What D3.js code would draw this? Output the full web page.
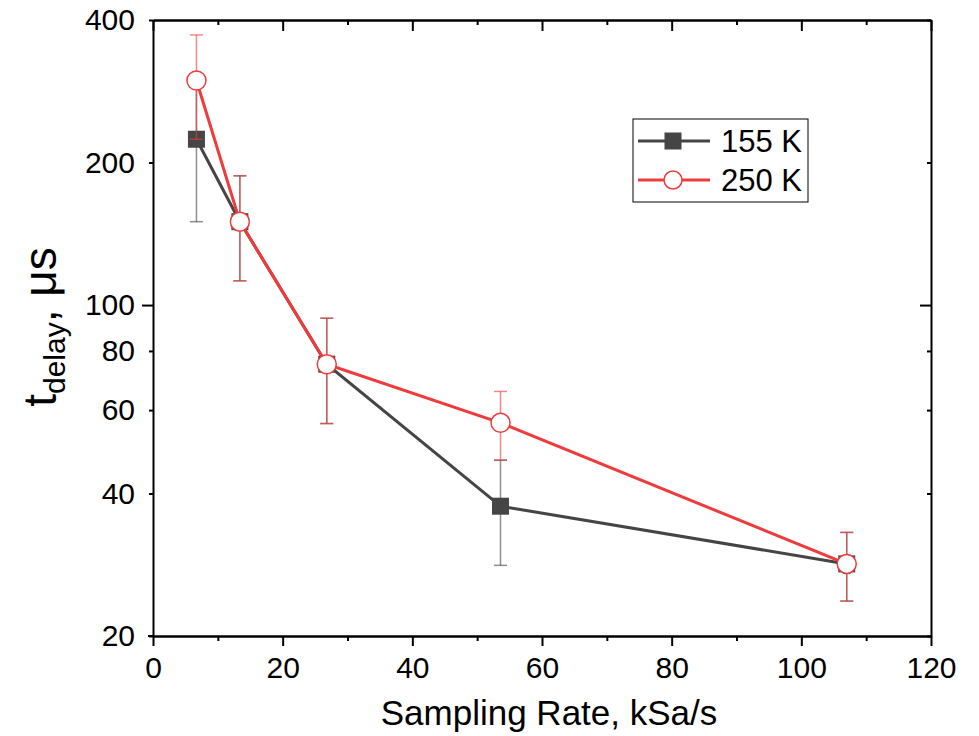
<!DOCTYPE html>
<html lang="en">
<head>
<meta charset="UTF-8">
<title>t_delay vs Sampling Rate</title>
<script src="https://d3js.org/d3.v7.min.js"></script>
<style>
  body { margin: 0; background: #fff; }
  text { font-family: "Liberation Sans", Arial, sans-serif; fill: #000; }
</style>
</head>
<body>
<div id="chart"></div>
<script>
// sampling rate, kSa/s
const rates = [6.7, 13.4, 26.8, 53.6, 107];
// 155 K series
const delay155 = [224, 150, 75, 37.6, 28.4];
const err155 = [74, 37.5, 18.8, 9.4, 4.7];
// 250 K series
const delay250 = [298, 150, 75, 56.4, 28.4];
const err250 = [74, 37.5, 18.8, 9.3, 4.7];

const xTicks = [0, 20, 40, 60, 80, 100, 120];
const xMinor = [10, 30, 50, 70, 90, 110];
const yTicks = [20, 40, 60, 80, 100, 200, 400];
const yMajor = [100];

const W = 979, H = 736;
const margin = {top: 20, right: 48, bottom: 100, left: 153};
const width = W - margin.left - margin.right,
      height = H - margin.top - margin.bottom;

const svg = d3.select("#chart").append("svg")
    .attr("width", W).attr("height", H);
const g = svg.append("g")
    .attr("transform", `translate(${margin.left},${margin.top})`);

const x = d3.scaleLinear().domain([0, 120]).range([0, width]);
const y = d3.scaleLog().domain([20, 400]).range([height, 0]);

const series = [
  {name: "155 K", vals: delay155, err: err155, color: "#454545", shape: "square"},
  {name: "250 K", vals: delay250, err: err250, color: "#ef3b3b", shape: "circle"}
];

// data
series.forEach(s => {
  const pts = rates.map((r, i) => ({x: r, y: s.vals[i], e: s.err[i]}));
  const sg = g.append("g");

  sg.append("path")
    .datum(pts)
    .attr("fill", "none")
    .attr("stroke", s.color)
    .attr("stroke-width", 3)
    .attr("d", d3.line().x(d => x(d.x)).y(d => y(d.y)));

  const eb = sg.append("g")
    .attr("stroke", s.color)
    .attr("stroke-opacity", 0.6)
    .attr("stroke-width", 1.5);
  pts.forEach(d => {
    const xx = x(d.x), y1 = y(d.y + d.e), y2 = y(d.y - d.e);
    eb.append("line").attr("x1", xx).attr("x2", xx).attr("y1", y1).attr("y2", y2);
    eb.append("line").attr("x1", xx - 6.5).attr("x2", xx + 6.5).attr("y1", y1).attr("y2", y1);
    eb.append("line").attr("x1", xx - 6.5).attr("x2", xx + 6.5).attr("y1", y2).attr("y2", y2);
  });

  if (s.shape === "square") {
    sg.selectAll("rect.m").data(pts).join("rect")
      .attr("x", d => x(d.x) - 8.5).attr("y", d => y(d.y) - 8.5)
      .attr("width", 17).attr("height", 17)
      .attr("fill", s.color);
  } else {
    sg.selectAll("circle.m").data(pts).join("circle")
      .attr("cx", d => x(d.x)).attr("cy", d => y(d.y))
      .attr("r", 9.5)
      .attr("fill", "#fff")
      .attr("stroke", s.color)
      .attr("stroke-width", 1.5);
  }
});

// axes
function styleAxis(sel) {
  sel.select(".domain").attr("stroke", "#000").attr("stroke-width", 2);
  sel.selectAll(".tick line").attr("stroke", "#000").attr("stroke-width", 2);
  sel.selectAll(".tick text").style("font-size", "30px");
}

const fmt = d3.format("d");

const xAxisB = g.append("g")
  .attr("transform", `translate(0,${height})`)
  .call(d3.axisBottom(x).tickValues(xTicks).tickFormat(fmt).tickSizeInner(10).tickSizeOuter(0).tickPadding(6));
styleAxis(xAxisB);
xAxisB.selectAll(".tick text").attr("dy", "0.85em");
const xAxisBMinor = g.append("g")
  .attr("transform", `translate(0,${height})`)
  .call(d3.axisBottom(x).tickValues(xMinor).tickFormat("").tickSizeInner(5).tickSizeOuter(0));
styleAxis(xAxisBMinor);

const xAxisT = g.append("g")
  .call(d3.axisBottom(x).tickValues(xTicks).tickFormat("").tickSizeInner(11).tickSizeOuter(0));
styleAxis(xAxisT);
const xAxisTMinor = g.append("g")
  .call(d3.axisBottom(x).tickValues(xMinor).tickFormat("").tickSizeInner(5).tickSizeOuter(0));
styleAxis(xAxisTMinor);

const yAxisL = g.append("g")
  .call(d3.axisLeft(y).tickValues(yTicks).tickFormat(fmt).tickSizeOuter(0).tickSizeInner(4).tickPadding(12));
styleAxis(yAxisL);
yAxisL.selectAll(".tick line").attr("x2", d => yMajor.includes(d) ? -11 : -4);
yAxisL.selectAll(".tick text").attr("x", -18);

const yAxisR = g.append("g")
  .attr("transform", `translate(${width},0)`)
  .call(d3.axisLeft(y).tickValues(yTicks).tickFormat("").tickSizeOuter(0).tickSizeInner(4));
styleAxis(yAxisR);
yAxisR.selectAll(".tick line").attr("x2", d => yMajor.includes(d) ? -11 : -4);

// frame corner stub
g.append("line").attr("x1", -5).attr("x2", 0).attr("y1", height).attr("y2", height)
  .attr("stroke", "#000").attr("stroke-width", 2);

// axis titles
svg.append("text")
  .attr("x", margin.left + width / 2 + 7)
  .attr("y", 725)
  .attr("text-anchor", "middle")
  .style("font-size", "35px")
  .text("Sampling Rate, kSa/s");

const yl = svg.append("text")
  .attr("transform", `translate(56,327) rotate(-90)`)
  .attr("text-anchor", "middle")
  .style("font-size", "46px");
yl.append("tspan").text("t");
yl.append("tspan").attr("dy", 9).style("font-size", "30px").text("delay");
yl.append("tspan").attr("dy", -9).text(", μs");

// legend
const lg = svg.append("g").attr("transform", "translate(633,119)");
lg.append("rect").attr("width", 175).attr("height", 83)
  .attr("fill", "#fff").attr("stroke", "#000").attr("stroke-width", 1);
series.forEach((s, i) => {
  const cy = 22 + i * 39;
  lg.append("line").attr("x1", 5).attr("x2", 77).attr("y1", cy).attr("y2", cy)
    .attr("stroke", s.color).attr("stroke-width", 3);
  if (s.shape === "square") {
    lg.append("rect").attr("x", 40 - 8.5).attr("y", cy - 8.5)
      .attr("width", 17).attr("height", 17).attr("fill", s.color);
  } else {
    lg.append("circle").attr("cx", 40).attr("cy", cy).attr("r", 9)
      .attr("fill", "#fff").attr("stroke", s.color).attr("stroke-width", 1.5);
  }
  lg.append("text").attr("x", 88).attr("y", cy).attr("dy", "0.36em")
    .style("font-size", "31px").text(s.name);
});
</script>
</body>
</html>
